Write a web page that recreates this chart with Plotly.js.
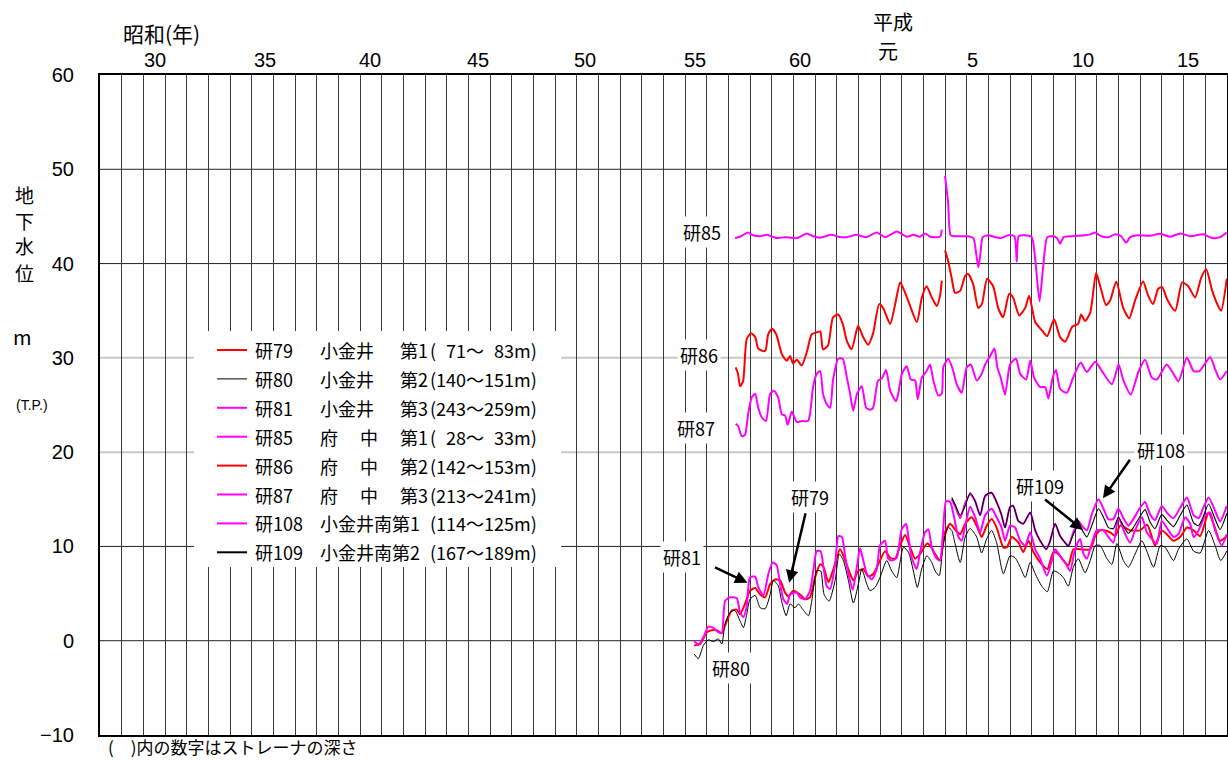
<!DOCTYPE html>
<html><head><meta charset="utf-8">
<script src="https://cdn.plot.ly/plotly-3.0.1.min.js"></script>
<style>html,body{margin:0;padding:0;background:#fff;} #chart{width:1228px;height:760px;}</style>
</head><body><div id="chart"></div>
<script>
// ---- data: [decimal year, groundwater level (m, T.P.)] ----
const ken79 = [[1980.41,-0.5],[1980.69,-0.35],[1981.00,0.9],[1981.22,1.1],[1981.46,1.1],[1981.69,0.8],[1981.92,2.1],[1982.15,3.2],[1982.38,3.3],[1982.53,2.8],[1982.76,3.9],[1982.99,5.3],[1983.23,5.6],[1983.46,4.9],[1983.69,4.6],[1983.92,6.0],[1984.15,6.5],[1984.38,6.4],[1984.61,5.1],[1984.76,4.7],[1984.99,5.3],[1985.30,4.9],[1985.53,4.4],[1985.76,4.6],[1985.99,6.7],[1986.23,8.1],[1986.38,7.8],[1986.61,6.2],[1986.84,7.6],[1987.15,9.7],[1987.38,8.5],[1987.61,7.1],[1987.76,6.4],[1987.99,7.4],[1988.22,7.6],[1988.45,6.8],[1988.69,7.1],[1988.91,8.1],[1989.22,9.5],[1989.46,8.8],[1989.69,8.7],[1989.92,10.1],[1990.15,11.2],[1990.38,9.9],[1990.61,8.7],[1990.84,9.2],[1991.15,10.3],[1991.30,10.1],[1991.53,9.2],[1991.76,8.5],[1991.99,11.5],[1992.23,12.4],[1992.45,11.8],[1992.69,11.3],[1992.92,12.4],[1993.22,13.1],[1993.45,12.2],[1993.68,11.0],[1993.91,12.2],[1994.14,12.9],[1994.37,12.0],[1994.68,9.9],[1994.84,9.9],[1995.07,11.0],[1995.38,10.4],[1995.60,9.4],[1995.84,10.6],[1996.07,9.4],[1996.38,8.3],[1996.71,7.6],[1996.99,9.4],[1997.22,9.2],[1997.45,8.5],[1997.68,8.0],[1997.91,9.7],[1998.22,9.7],[1998.69,9.7],[1998.92,11.1],[1999.15,11.7],[1999.38,11.7],[1999.61,11.5],[1999.84,11.1],[2000.07,12.2],[2000.30,12.0],[2000.53,11.7],[2000.99,11.7],[2001.32,12.3],[2001.68,10.1],[2001.99,11.7],[2002.22,11.3],[2002.53,10.6],[2002.84,11.0],[2003.15,12.0],[2003.46,11.7],[2003.76,11.1],[2004.15,13.6],[2004.38,12.4],[2004.68,10.6],[2004.99,11.1]];

const ken80 = [[1980.41,-1.4],[1980.61,-1.9],[1980.84,-0.5],[1981.07,0.1],[1981.30,-0.1],[1981.53,0.2],[1981.69,-0.35],[1981.84,1.8],[1982.07,3.0],[1982.30,3.2],[1982.53,2.1],[1982.69,1.4],[1982.84,2.8],[1982.99,4.4],[1983.23,4.8],[1983.46,3.5],[1983.69,3.4],[1983.92,4.9],[1984.07,6.4],[1984.30,5.8],[1984.46,4.1],[1984.66,2.65],[1984.84,3.9],[1985.07,3.5],[1985.22,3.9],[1985.45,3.25],[1985.69,2.65],[1985.84,4.2],[1986.07,7.4],[1986.25,7.4],[1986.41,4.9],[1986.64,4.2],[1986.92,6.4],[1987.11,9.2],[1987.30,8.5],[1987.53,6.4],[1987.76,4.0],[1987.99,6.0],[1988.15,7.6],[1988.38,6.0],[1988.53,5.3],[1988.76,5.65],[1988.99,6.7],[1989.30,8.5],[1989.53,7.4],[1989.76,6.7],[1990.07,9.9],[1990.30,9.4],[1990.53,7.4],[1990.71,5.65],[1990.91,7.6],[1991.15,9.0],[1991.38,8.3],[1991.53,7.4],[1991.72,6.9],[1991.91,10.3],[1992.14,12.0],[1992.30,11.7],[1992.45,10.3],[1992.69,8.3],[1992.92,11.0],[1993.15,11.9],[1993.45,11.0],[1993.68,9.3],[1993.91,10.8],[1994.14,11.7],[1994.37,10.4],[1994.68,7.1],[1994.99,9.0],[1995.22,8.8],[1995.46,7.8],[1995.69,6.7],[1995.92,8.3],[1996.15,7.1],[1996.45,5.8],[1996.71,5.2],[1996.99,7.4],[1997.22,7.2],[1997.45,6.7],[1997.68,5.8],[1997.91,7.8],[1998.14,8.7],[1998.45,7.2],[1998.69,8.5],[1998.92,10.1],[1999.15,10.1],[1999.46,8.7],[1999.69,8.1],[1999.92,10.3],[2000.22,8.5],[2000.45,7.8],[2000.76,9.2],[2001.07,10.6],[2001.30,9.5],[2001.61,7.8],[2001.92,10.1],[2002.15,9.9],[2002.53,8.5],[2002.76,9.7],[2003.15,10.8],[2003.46,9.5],[2003.76,9.3],[2004.15,11.7],[2004.45,10.1],[2004.71,8.5],[2004.99,9.5]];

const ken81 = [[1980.41,0.0],[1980.61,-0.4],[1980.84,0.35],[1981.07,1.5],[1981.30,1.35],[1981.53,0.9],[1981.69,0.8],[1981.84,4.2],[1982.07,4.6],[1982.38,4.5],[1982.53,3.0],[1982.69,2.5],[1982.84,3.7],[1982.99,6.7],[1983.23,6.8],[1983.37,5.7],[1983.61,4.8],[1983.84,7.1],[1984.04,8.3],[1984.22,8.0],[1984.38,6.0],[1984.53,4.4],[1984.71,3.9],[1984.84,4.9],[1985.15,5.1],[1985.30,4.6],[1985.53,4.4],[1985.76,5.3],[1985.91,7.4],[1986.07,9.5],[1986.25,9.5],[1986.38,7.8],[1986.53,5.8],[1986.69,5.5],[1986.92,8.1],[1987.07,11.1],[1987.23,11.0],[1987.38,9.0],[1987.53,7.1],[1987.73,5.4],[1987.92,7.8],[1988.07,9.8],[1988.22,8.5],[1988.38,7.1],[1988.61,6.5],[1988.84,7.6],[1988.99,10.1],[1989.22,10.6],[1989.37,8.7],[1989.53,8.5],[1989.76,8.8],[1989.99,11.8],[1990.19,12.4],[1990.30,11.0],[1990.45,8.8],[1990.68,7.6],[1990.84,9.4],[1991.07,11.5],[1991.22,11.8],[1991.38,9.9],[1991.61,8.7],[1991.76,8.5],[1991.89,11.3],[1992.04,14.8],[1992.23,14.7],[1992.38,13.4],[1992.61,11.0],[1992.76,10.6],[1992.92,12.2],[1993.15,14.2],[1993.38,13.1],[1993.61,11.5],[1993.84,13.3],[1994.14,14.0],[1994.37,13.1],[1994.60,12.0],[1994.76,10.6],[1994.99,12.2],[1995.22,12.0],[1995.46,10.6],[1995.69,10.1],[1995.92,11.5],[1996.15,9.7],[1996.38,8.7],[1996.69,6.9],[1996.92,8.5],[1997.07,9.7],[1997.30,9.0],[1997.58,8.1],[1997.76,7.4],[1997.99,9.7],[1998.22,10.8],[1998.38,9.2],[1998.53,8.7],[1998.76,10.3],[1998.99,11.7],[1999.30,11.7],[1999.53,11.0],[1999.76,10.4],[1999.99,13.1],[2000.30,11.3],[2000.53,10.4],[2000.76,11.7],[2001.07,13.1],[2001.30,11.5],[2001.53,10.8],[2001.76,10.3],[2001.99,12.7],[2002.30,11.7],[2002.53,11.0],[2002.76,11.3],[2003.07,13.1],[2003.30,12.4],[2003.46,11.0],[2003.69,11.7],[2004.00,13.3],[2004.22,13.6],[2004.45,11.7],[2004.76,10.1],[2004.99,11.3]];

const ken85 = [[1982.30,42.7],[1982.58,42.9],[1982.89,43.3],[1983.13,43.0],[1983.46,42.9],[1983.77,43.05],[1983.97,42.9],[1984.23,42.7],[1984.61,42.8],[1985.15,42.7],[1985.61,43.2],[1985.90,42.9],[1986.23,42.75],[1986.76,43.05],[1987.06,42.85],[1987.43,42.8],[1987.92,43.05],[1988.35,42.8],[1988.84,43.3],[1989.23,42.8],[1989.77,43.4],[1990.23,42.85],[1990.53,43.05],[1990.84,42.85],[1991.07,43.2],[1991.30,42.85],[1991.76,42.85],[1991.84,43.6],[1991.92,null],[1991.99,49.3],[1992.13,46.5],[1992.25,43.0],[1992.45,42.9],[1992.78,42.9],[1993.06,42.9],[1993.30,42.7],[1993.43,41.0],[1993.53,39.6],[1993.63,41.2],[1993.73,42.8],[1993.98,43.0],[1994.30,42.8],[1994.58,42.7],[1994.90,43.0],[1995.19,42.9],[1995.30,40.2],[1995.39,42.9],[1995.68,43.0],[1995.99,42.8],[1996.15,40.5],[1996.35,36.0],[1996.51,39.5],[1996.71,42.8],[1996.98,42.9],[1997.16,42.7],[1997.30,42.1],[1997.46,42.8],[1997.86,42.9],[1998.45,43.0],[1998.69,43.1],[1998.92,43.3],[1999.19,42.9],[1999.52,42.8],[1999.84,43.1],[2000.12,42.9],[2000.35,42.2],[2000.53,42.8],[2000.90,43.0],[2001.45,42.95],[2001.92,43.15],[2002.38,42.85],[2002.84,43.2],[2003.30,42.9],[2003.90,43.1],[2004.32,42.7],[2004.68,42.8],[2004.98,43.3]];

const ken86 = [[1982.33,29.0],[1982.44,28.3],[1982.53,27.0],[1982.67,27.5],[1982.84,32.0],[1983.04,32.6],[1983.23,32.2],[1983.37,31.0],[1983.60,30.7],[1983.71,30.8],[1983.83,32.5],[1984.01,33.1],[1984.20,32.5],[1984.46,30.4],[1984.69,29.7],[1984.84,30.2],[1984.98,29.4],[1985.15,29.8],[1985.38,29.2],[1985.61,30.6],[1985.84,32.5],[1986.07,32.7],[1986.23,32.8],[1986.36,30.9],[1986.59,31.3],[1986.82,34.3],[1987.06,34.6],[1987.27,33.6],[1987.46,31.8],[1987.68,30.9],[1987.98,33.4],[1988.21,32.2],[1988.44,31.4],[1988.67,32.6],[1988.95,35.7],[1989.13,35.3],[1989.46,33.6],[1989.69,35.7],[1989.92,38.0],[1990.15,36.9],[1990.38,35.5],[1990.69,33.8],[1990.92,36.4],[1991.14,37.6],[1991.38,36.4],[1991.61,35.5],[1991.76,36.6],[1991.84,38.2],[1991.92,null],[1991.99,41.4],[1992.13,40.3],[1992.30,38.4],[1992.45,36.9],[1992.69,37.1],[1992.92,38.7],[1993.06,38.9],[1993.29,37.8],[1993.52,35.3],[1993.69,35.7],[1993.93,38.4],[1994.21,37.6],[1994.44,35.3],[1994.67,34.3],[1994.95,36.8],[1995.13,36.4],[1995.41,34.5],[1995.69,35.3],[1995.87,36.6],[1996.15,33.8],[1996.47,32.9],[1996.70,32.3],[1997.02,34.1],[1997.30,32.2],[1997.53,31.7],[1997.86,33.3],[1998.13,33.6],[1998.27,34.6],[1998.45,33.9],[1998.69,34.8],[1998.96,39.0],[1999.15,37.6],[1999.42,35.6],[1999.61,36.1],[1999.89,38.1],[2000.21,35.3],[2000.49,34.2],[2000.76,36.1],[2001.13,38.1],[2001.36,36.6],[2001.59,35.7],[2001.82,37.3],[2002.01,37.5],[2002.24,36.2],[2002.61,35.0],[2002.93,38.0],[2003.21,37.6],[2003.53,36.4],[2003.81,38.5],[2004.04,39.4],[2004.32,37.1],[2004.55,35.7],[2004.73,35.0],[2004.99,38.4]];

const ken87 = [[1982.33,23.0],[1982.44,22.8],[1982.61,21.7],[1982.76,21.8],[1982.90,24.0],[1983.07,25.8],[1983.23,26.2],[1983.37,24.7],[1983.53,23.7],[1983.73,23.3],[1983.92,26.2],[1984.10,26.5],[1984.29,25.8],[1984.46,24.0],[1984.61,23.9],[1984.73,22.9],[1984.92,24.3],[1985.15,23.2],[1985.38,23.3],[1985.67,23.3],[1985.76,24.0],[1985.90,26.9],[1986.07,28.3],[1986.23,28.6],[1986.36,26.2],[1986.53,25.1],[1986.69,24.7],[1986.82,27.6],[1987.06,29.9],[1987.27,29.9],[1987.46,27.9],[1987.61,26.2],[1987.75,24.4],[1987.93,26.2],[1988.15,27.0],[1988.35,24.7],[1988.53,24.5],[1988.67,24.7],[1988.90,27.6],[1989.07,27.8],[1989.27,28.7],[1989.46,26.5],[1989.73,25.4],[1989.83,26.2],[1990.00,28.3],[1990.22,29.1],[1990.41,27.7],[1990.61,27.6],[1990.73,25.6],[1990.92,27.9],[1991.14,28.6],[1991.30,29.3],[1991.45,27.6],[1991.68,26.0],[1991.84,26.2],[1991.91,29.0],[1992.14,29.9],[1992.37,28.6],[1992.53,27.2],[1992.76,26.3],[1992.99,29.0],[1993.18,29.3],[1993.45,27.6],[1993.68,28.3],[1993.84,29.3],[1994.07,30.2],[1994.27,31.0],[1994.40,29.0],[1994.56,27.9],[1994.76,26.1],[1994.99,29.3],[1995.26,29.9],[1995.46,28.3],[1995.73,27.7],[1995.92,29.7],[1996.10,27.9],[1996.38,26.9],[1996.61,26.9],[1996.76,25.7],[1996.96,27.9],[1997.11,28.7],[1997.30,26.7],[1997.61,26.3],[1997.90,27.9],[1998.25,29.5],[1998.53,28.5],[1998.92,29.6],[1999.23,28.6],[1999.69,27.2],[2000.00,29.3],[2000.22,27.6],[2000.56,26.1],[2000.91,28.5],[2001.22,29.8],[2001.53,27.9],[2001.76,27.7],[2002.22,29.3],[2002.53,28.3],[2002.76,27.5],[2003.15,30.0],[2003.46,28.6],[2003.73,28.6],[2004.22,30.1],[2004.45,28.8],[2004.68,27.7],[2004.99,28.6]];

const ken108 = [[1992.30,15.0],[1992.45,14.3],[1992.69,13.0],[1992.92,14.6],[1993.15,15.5],[1993.38,14.8],[1993.61,13.3],[1993.84,15.3],[1994.14,15.7],[1994.37,14.7],[1994.60,13.3],[1994.76,12.0],[1994.99,14.2],[1995.14,14.3],[1995.37,12.7],[1995.60,12.4],[1995.92,13.6],[1996.15,11.7],[1996.38,10.6],[1996.66,9.7],[1996.84,10.6],[1997.07,12.4],[1997.30,11.1],[1997.53,10.4],[1997.68,10.1],[1997.91,11.5],[1998.14,12.7],[1998.30,12.2],[1998.53,11.7],[1998.76,13.4],[1999.07,15.0],[1999.30,14.0],[1999.53,12.9],[1999.76,12.9],[1999.99,14.0],[2000.22,13.0],[2000.45,12.2],[2000.68,12.9],[2000.99,14.1],[2001.22,14.7],[2001.45,13.4],[2001.68,12.8],[2001.99,14.3],[2002.22,13.6],[2002.53,13.0],[2002.84,14.1],[2003.15,15.2],[2003.46,13.3],[2003.69,13.0],[2003.91,14.1],[2004.15,15.2],[2004.45,13.8],[2004.68,12.65],[2004.99,14.3]];

const ken109 = [[1992.30,15.2],[1992.45,14.5],[1992.69,13.3],[1992.92,14.3],[1993.15,15.7],[1993.38,14.8],[1993.61,13.3],[1993.84,15.4],[1994.14,15.7],[1994.37,14.7],[1994.60,13.3],[1994.76,12.0],[1994.99,14.2],[1995.14,14.3],[1995.37,12.7],[1995.60,12.4],[1995.92,13.6],[1996.15,11.7],[1996.38,10.6],[1996.66,9.7],[1996.84,10.6],[1997.07,12.4],[1997.30,11.1],[1997.53,10.4],[1997.68,10.0],[1997.91,11.3],[1998.14,12.2],[1998.30,11.8],[1998.53,11.0],[1998.76,12.2],[1999.07,14.0],[1999.30,13.1],[1999.53,12.0],[1999.76,11.9],[1999.99,13.1],[2000.22,12.2],[2000.45,11.4],[2000.68,12.0],[2000.99,13.2],[2001.22,13.9],[2001.45,12.6],[2001.68,11.9],[2001.99,13.4],[2002.22,12.8],[2002.53,12.1],[2002.84,13.3],[2003.15,14.4],[2003.46,12.5],[2003.69,12.2],[2003.91,13.2],[2004.15,14.5],[2004.45,12.9],[2004.68,11.8],[2004.99,13.5]];

// legend text columns
const wellNames  = ['研79','研80','研81','研85','研86','研87','研108','研109'];
const wellPlaces = ['小金井','小金井','小金井','府\u3000 中','府\u3000 中','府\u3000 中','小金井南第1','小金井南第2'];
const wellLayers = ['第1','第2','第3','第1','第2','第3','',''];
const wellDepths = ['(\u200771～\u200783m)','(140～151m)','(243～259m)','(\u200728～\u200733m)','(142～153m)','(213～241m)','(114～125m)','(167～189m)'];

// top axis (era-year) tick labels
const topLabelYear = [1955.54,1960.61,1965.46,1970.44,1975.38,1980.46,1985.30,1989.36,1993.24,1998.36,2003.21];
const topLabelText = ['30','35','40','45','50','55','60','元','5','10','15'];

// ---- styles ----
const RED='#ff0000', MAG='#ff00ff', BLK='#000000';
const seriesList = [
  {d:ken79, c:RED, w:2},
  {d:ken80, c:BLK, w:1},
  {d:ken81, c:MAG, w:2},
  {d:ken85, c:MAG, w:2},
  {d:ken86, c:RED, w:2},
  {d:ken87, c:MAG, w:2},
  {d:ken108, c:MAG, w:2},
  {d:ken109, c:BLK, w:1.1}
];
const traces = seriesList.map((s,i)=>({
  type:'scatter', mode:'lines', name:wellNames[i],
  x:s.d.map(p=>p[0]), y:s.d.map(p=>p[1]),
  line:{color:s.c, width:s.w, shape:'spline', smoothing:0.6},
  connectgaps:false, hoverinfo:'skip', showlegend:false
}));

const JP = 'Noto Sans CJK JP, sans-serif';
const LAT = 'Liberation Sans, Arial, sans-serif';

// px helpers for annotation placement (plot area: x 100..1226.7, y 75..735)
const X0=1953, X1=2005, Y0=-10, Y1=60;
const PL=100, PR=1226.7, PT=75, PB=735;
const xpx = px => X0 + (px-PL)/(PR-PL)*(X1-X0);
const ypx = py => Y1 - (py-PT)/(PB-PT)*(Y1-Y0);
const ppx = px => (px-PL)/(PR-PL);
const ppy = py => (PB-py)/(PB-PT);

const shapes = [];
// horizontal grid lines
[[50,'#222',1],[40,'#222',1],[30,'#c8c8c8',2],[20,'#c8c8c8',2],[10,'#222',1],[0,'#222',1]].forEach(g=>{
  shapes.push({type:'line', xref:'paper', x0:0, x1:1, yref:'y', y0:g[0], y1:g[0], line:{color:g[1], width:g[2]}, layer:'below'});
});
// legend box
shapes.push({type:'rect', xref:'x', yref:'y', x0:xpx(194), x1:xpx(561), y0:ypx(567), y1:ypx(331), fillcolor:'#fff', line:{width:0}, layer:'above'});

const annotations = [];
// legend rows
for (let i=0;i<wellNames.length;i++){
  const py = 350 + i*28.9;
  const yy = ypx(py);
  shapes.push({type:'line', xref:'x', yref:'y', x0:xpx(217), x1:xpx(247), y0:yy, y1:yy, line:{color:seriesList[i].c, width:seriesList[i].w===1?1:2}, layer:'above'});
  const base = {xref:'x', yref:'y', y:yy, yanchor:'middle', xanchor:'left', showarrow:false, font:{family:JP, size:18, color:'#000'}};
  annotations.push(Object.assign({}, base, {x:xpx(253), text:wellNames[i]}));
  annotations.push(Object.assign({}, base, {x:xpx(318), text:wellPlaces[i]}));
  if (wellLayers[i]) annotations.push(Object.assign({}, base, {x:xpx(398), text:wellLayers[i]}));
  annotations.push(Object.assign({}, base, {x:xpx(428), text:wellDepths[i]}));
}
// top labels
topLabelText.forEach((t,i)=>{
  const isKanji = t==='元';
  annotations.push({xref:'x', yref:'paper', x:topLabelYear[i], y:ppy(isKanji?50:60), text:t, showarrow:false, borderpad:0,
    xanchor:'center', yanchor:'middle', font:{family:isKanji?JP:LAT, size:20, color:'#000'}});
});
annotations.push({xref:'x', yref:'paper', x:xpx(161), y:ppy(33), text:'昭和(年)', showarrow:false, borderpad:0, xanchor:'center', yanchor:'middle', font:{family:JP, size:21, color:'#000'}});
annotations.push({xref:'x', yref:'paper', x:xpx(893), y:ppy(22), text:'平成', showarrow:false, borderpad:0, xanchor:'center', yanchor:'middle', font:{family:JP, size:20, color:'#000'}});
// y axis title (stacked characters)
['地','下','水','位'].forEach((ch,i)=>{
  annotations.push({xref:'paper', yref:'paper', x:ppx(25), y:ppy(194+i*26), text:ch, showarrow:false, xanchor:'center', yanchor:'middle', borderpad:0, font:{family:JP, size:19, color:'#000'}});
});
annotations.push({xref:'paper', yref:'paper', x:ppx(23), y:ppy(336), text:'m', showarrow:false, xanchor:'center', yanchor:'middle', font:{family:JP, size:20, color:'#000'}});
annotations.push({xref:'paper', yref:'paper', x:ppx(32), y:ppy(405), text:'(T.P.)', showarrow:false, xanchor:'center', yanchor:'middle', font:{family:LAT, size:14, color:'#000'}});
// note
annotations.push({xref:'paper', yref:'paper', x:ppx(107), y:ppy(746), text:'(\u3000)内の数字はストレーナの深さ', showarrow:false, xanchor:'left', yanchor:'middle', borderpad:0, font:{family:JP, size:17, color:'#000'}});

// well labels
const wellLabels = [
  ['研85',701.7,231.7],['研86',699.3,355],['研87',696.2,428.3],['研81',681.7,556.7],
  ['研79',810,496.7],['研80',730.8,668.3],['研109',1040,486],['研108',1160.8,450]
];
wellLabels.forEach(l=>{
  annotations.push({xref:'x', yref:'y', x:xpx(l[1]), y:ypx(l[2]), text:l[0], showarrow:false, xanchor:'center', yanchor:'middle',
    bgcolor:'#fff', borderpad:2, font:{family:JP, size:18, color:'#000'}});
});
// arrows: [tipX, tipY, tailX, tailY] in px
const arrows = [[747.3,582.7,713.3,566.7],[789,582.7,805.7,511.7],[1082.7,530,1043.3,498.3],[1102.7,498.3,1130.7,458.3]];
arrows.forEach(a=>{
  annotations.push({xref:'x', yref:'y', x:xpx(a[0]), y:ypx(a[1]), ax:a[2]-a[0], ay:a[3]-a[1], text:'', showarrow:true,
    arrowhead:2, arrowsize:1, arrowwidth:2.5, arrowcolor:'#000', standoff:0, startstandoff:0});
});

const layout = {
  width:1228, height:760,
  margin:{l:100, r:1.3, t:75, b:25, pad:0},
  paper_bgcolor:'#fff', plot_bgcolor:'#fff',
  showlegend:false,
  font:{family:LAT, size:20, color:'#000'},
  xaxis:{range:[X0,X1], showticklabels:false, ticks:'', showgrid:true, dtick:1, tick0:1953,
    gridcolor:'#3a3a3a', gridwidth:1, zeroline:false, showline:true, mirror:true, linecolor:'#000', linewidth:2, fixedrange:true},
  yaxis:{range:[Y0,Y1], dtick:10, tick0:0, showgrid:false, zeroline:false, showline:true, mirror:true, linecolor:'#000', linewidth:2,
    ticks:'outside', ticklen:20, tickcolor:'rgba(0,0,0,0)', tickfont:{family:LAT, size:20, color:'#000'}, fixedrange:true},
  shapes:shapes, annotations:annotations
};
Plotly.newPlot('chart', traces, layout, {staticPlot:true, displayModeBar:false});
</script></body></html>
